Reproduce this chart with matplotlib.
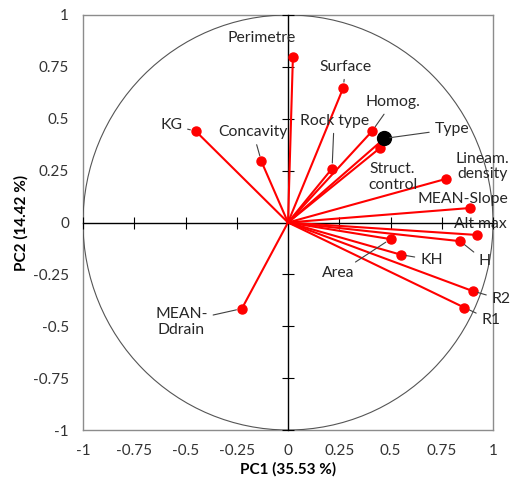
import numpy as np
import matplotlib
matplotlib.use("Agg")
import matplotlib.pyplot as plt
from matplotlib.patches import Circle

plt.rcParams["font.family"] = ["Lato", "DejaVu Sans"]

# variable loadings on PC1 / PC2
variables = ["Perimetre", "Surface", "KG", "Concavity", "Rock type", "Homog.",
             "Struct.\ncontrol", "Lineam.\ndensity", "MEAN-Slope", "Alt max",
             "H", "Area", "KH", "R2", "R1", "MEAN-\nDdrain"]
pc1 = [0.024, 0.27, -0.45, -0.13, 0.215, 0.41, 0.45, 0.77, 0.89, 0.92,
       0.84, 0.50, 0.55, 0.90, 0.86, -0.225]
pc2 = [0.80, 0.65, 0.44, 0.295, 0.26, 0.44, 0.36, 0.21, 0.07, -0.06,
       -0.09, -0.08, -0.155, -0.33, -0.41, -0.415]

# supplementary variable (black)
sup_name = "Type"
sup_pc1 = 0.47
sup_pc2 = 0.405

ticks = [-1, -0.75, -0.5, -0.25, 0, 0.25, 0.5, 0.75, 1]
tick_labels = ["-1", "-0.75", "-0.5", "-0.25", "0", "0.25", "0.5", "0.75", "1"]

# label placement (data coords) and whether a leader line is drawn
label_pos = {
    "Perimetre": (-0.13, 0.89, False),
    "Surface": (0.28, 0.75, True),
    "KG": (-0.57, 0.47, True),
    "Concavity": (-0.17, 0.435, True),
    "Rock type": (0.225, 0.49, True),
    "Homog.": (0.51, 0.58, True),
    "Struct.\ncontrol": (0.51, 0.22, False),
    "Lineam.\ndensity": (0.95, 0.27, False),
    "MEAN-Slope": (0.855, 0.115, False),
    "Alt max": (0.94, -0.005, False),
    "H": (0.96, -0.185, True),
    "Area": (0.245, -0.245, True),
    "KH": (0.70, -0.18, True),
    "R2": (1.04, -0.37, True),
    "R1": (0.99, -0.47, True),
    "MEAN-\nDdrain": (-0.52, -0.48, True),
    "Type": (0.80, 0.45, True),
}

fig = plt.figure(figsize=(5.12, 4.83), dpi=100)
pos = [83 / 512, 1 - 430 / 483, 410 / 512, 415 / 483]
ax = fig.add_axes(pos)
ax.set_xlim(-1, 1)
ax.set_ylim(-1, 1)
ax.set_xticks(ticks)
ax.set_xticklabels(tick_labels)
ax.set_yticks(ticks)
ax.set_yticklabels(tick_labels)
ax.tick_params(length=0, pad=10, labelsize=11, colors="#333333")
for s in ax.spines.values():
    s.set_color("#8c8c8c")
    s.set_linewidth(1.0)
ax.set_xlabel("PC1 (35.53 %)", fontweight="bold", fontsize=11, labelpad=3)
ax.set_ylabel("PC2 (14.42 %)", fontweight="bold", fontsize=11, labelpad=3)

# axes through the origin with crossing ticks
ax2 = fig.add_axes(pos)
ax2.patch.set_visible(False)
ax2.set_xlim(-1, 1)
ax2.set_ylim(-1, 1)
ax2.spines["left"].set_position("zero")
ax2.spines["bottom"].set_position("zero")
ax2.spines["top"].set_visible(False)
ax2.spines["right"].set_visible(False)
for s in ("left", "bottom"):
    ax2.spines[s].set_color("black")
    ax2.spines[s].set_linewidth(1.0)
ax2.set_xticks([t for t in ticks if t != 0])
ax2.set_yticks([t for t in ticks if t != 0])
ax2.tick_params(direction="inout", length=8, width=0.8, labelleft=False,
                labelbottom=False)

ax2.add_patch(Circle((0, 0), 1, fill=False, ec="#555555", lw=0.8, zorder=1))

for x, y in zip(pc1, pc2):
    ax2.plot([0, x], [0, y], color="red", lw=1.5, zorder=3)
    ax2.plot(x, y, "o", color="red", ms=6.5, zorder=4)
ax2.plot([0, sup_pc1], [0, sup_pc2], color="red", lw=1.5, zorder=3)
ax2.plot(sup_pc1, sup_pc2, "o", color="black", ms=10, zorder=5)

names = variables + [sup_name]
xs = pc1 + [sup_pc1]
ys = pc2 + [sup_pc2]
for name, x, y in zip(names, xs, ys):
    lx, ly, leader = label_pos[name]
    props = None
    if leader:
        props = dict(arrowstyle="-", color="#404040", lw=0.8,
                     shrinkA=2, shrinkB=4)
    ax2.annotate(name, xy=(x, y), xytext=(lx, ly), ha="center", va="center",
                 fontsize=11.3, color="#262626", linespacing=1.15,
                 arrowprops=props, zorder=6, annotation_clip=False)

fig.savefig("out.png", dpi=100)
